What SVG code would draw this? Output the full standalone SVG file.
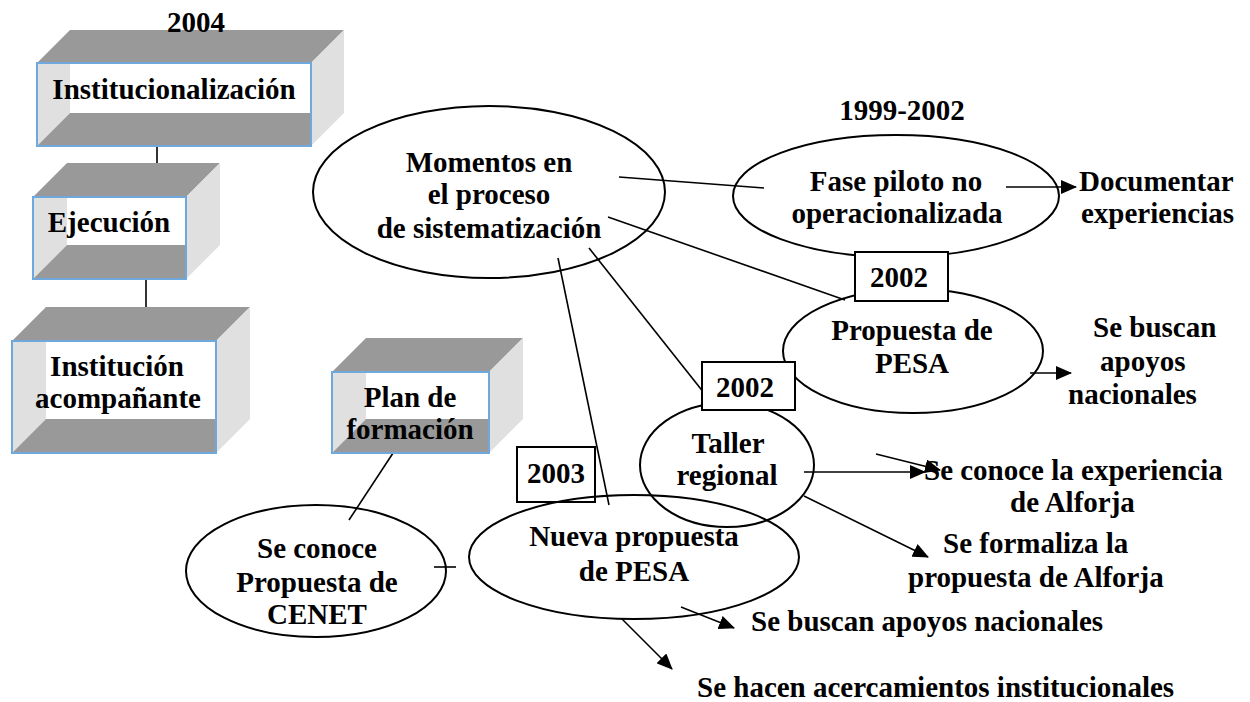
<svg xmlns="http://www.w3.org/2000/svg" width="1250" height="702" viewBox="0 0 1250 702">
<defs>
<marker id="ah" markerUnits="userSpaceOnUse" markerWidth="16" markerHeight="14" viewBox="0 0 16 14" refX="15" refY="7" orient="auto">
<path d="M0,0 L16,7 L0,14 z" fill="#000"/>
</marker>
<style>
text{font-family:"Liberation Serif","Times New Roman",serif;font-weight:bold;font-size:29px;fill:#000}
.c{text-anchor:middle}
.dark{fill:#999999}
.light{fill:#e0e0e0}
.wall{fill:#ffffff}
.front{fill:none;stroke:#6fa8dc;stroke-width:2}
.el{fill:none;stroke:#000;stroke-width:2}
.yr{fill:#fff;stroke:#000;stroke-width:2}
.ln{stroke:#000;stroke-width:1.6;fill:none}
.ar{stroke:#000;stroke-width:1.6;fill:none;marker-end:url(#ah)}
</style>
</defs>
<rect width="1250" height="702" fill="#fff"/>

<g id="connectors">
<line class="ln" x1="157" y1="146" x2="157" y2="164"/>
<line class="ln" x1="146" y1="279" x2="146" y2="322"/>
<line class="ln" x1="397" y1="447" x2="349" y2="520"/>
<line class="ln" x1="434" y1="567" x2="456" y2="567"/>
<line class="ln" x1="619" y1="177" x2="764" y2="188"/>
<line class="ln" x1="608" y1="217" x2="845" y2="300"/>
<line class="ln" x1="589" y1="248" x2="712" y2="403"/>
<line class="ln" x1="558" y1="258" x2="609" y2="505"/>
<line class="ar" x1="1006" y1="187" x2="1076" y2="187"/>
<line class="ar" x1="1030" y1="373" x2="1071" y2="373"/>
<line class="ar" x1="804" y1="472" x2="925" y2="472"/>
<line class="ar" x1="876" y1="454" x2="940" y2="470"/>
<line class="ar" x1="804" y1="496" x2="928" y2="557"/>
<line class="ar" x1="681" y1="607" x2="734" y2="628"/>
<line class="ar" x1="622" y1="619" x2="672" y2="669"/>
</g>

<g id="cube-institucionalizacion">
<polygon class="dark" points="37,63 70,30 344,30 311,63"/>
<polygon class="light" points="311,63 344,30 344,113 311,146"/>
<rect class="wall" x="37" y="63" width="274" height="83"/>
<polygon class="light" points="37,63 70,63 70,113 37,146"/>
<polygon class="dark" points="37,146 70,113 311,113 311,146"/>
<rect class="front" x="37" y="63" width="274" height="83"/>
<text class="c" x="174" y="99">Institucionalización</text>
</g>
<g id="year-2004"><text class="c" x="196" y="32">2004</text></g>

<g id="cube-ejecucion">
<polygon class="dark" points="33,197 67,163 220,163 186,197"/>
<polygon class="light" points="186,197 220,163 220,245 186,279"/>
<rect class="wall" x="33" y="197" width="153" height="82"/>
<polygon class="light" points="33,197 67,197 67,245 33,279"/>
<polygon class="dark" points="33,279 67,245 186,245 186,279"/>
<rect class="front" x="33" y="197" width="153" height="82"/>
<text class="c" x="109" y="232">Ejecución</text>
</g>

<g id="cube-institucion">
<polygon class="dark" points="12,341 46,307 250,307 216,341"/>
<polygon class="light" points="216,341 250,307 250,419 216,453"/>
<rect class="wall" x="12" y="341" width="204" height="112"/>
<polygon class="light" points="12,341 46,341 46,419 12,453"/>
<polygon class="dark" points="12,453 46,419 216,419 216,453"/>
<rect class="front" x="12" y="341" width="204" height="112"/>
<text class="c" x="117" y="376">Institución</text>
<text class="c" x="118" y="408">acompañante</text>
</g>

<g id="cube-plan">
<polygon class="dark" points="332,372 366,338 523,338 489,372"/>
<polygon class="light" points="489,372 523,338 523,419 489,453"/>
<rect class="wall" x="332" y="372" width="157" height="81"/>
<polygon class="light" points="332,372 366,372 366,419 332,453"/>
<polygon class="dark" points="332,453 366,419 489,419 489,453"/>
<rect class="front" x="332" y="372" width="157" height="81"/>
<text class="c" x="410" y="407">Plan de</text>
<text class="c" x="410" y="439">formación</text>
</g>

<g id="momentos">
<ellipse class="el" cx="489" cy="192" rx="176" ry="86"/>
<text class="c" x="489" y="172">Momentos en</text>
<text class="c" x="489" y="204">el proceso</text>
<text class="c" x="489" y="238">de sistematización</text>
</g>

<g id="fase">
<text class="c" x="902" y="120">1999-2002</text>
<ellipse class="el" cx="896" cy="196" rx="163" ry="61"/>
<text class="c" x="896" y="191">Fase piloto no</text>
<text class="c" x="897" y="223">operacionalizada</text>
</g>
<g id="documentar">
<text x="1079" y="191">Documentar</text>
<text x="1081" y="223">experiencias</text>
</g>

<g id="propuesta">
<ellipse class="el" cx="913" cy="351" rx="130" ry="62"/>
<rect class="yr" x="855" y="252" width="93" height="49"/>
<text class="c" x="899" y="287">2002</text>
<text class="c" x="912" y="340">Propuesta de</text>
<text class="c" x="912" y="373">PESA</text>
</g>
<g id="apoyos1">
<text x="1093" y="337">Se buscan</text>
<text x="1100" y="371">apoyos</text>
<text x="1068" y="404">nacionales</text>
</g>

<g id="taller">
<ellipse class="el" cx="727" cy="465" rx="87" ry="62"/>
<rect class="yr" x="702" y="362" width="93" height="48"/>
<text class="c" x="745" y="397">2002</text>
<text class="c" x="728" y="453">Taller</text>
<text class="c" x="727" y="485">regional</text>
</g>
<g id="experiencia">
<text x="924" y="480">Se conoce la experiencia</text>
<text x="1010" y="512">de Alforja</text>
</g>
<g id="formaliza">
<text x="943" y="553">Se formaliza la</text>
<text x="908" y="587">propuesta de Alforja</text>
</g>

<g id="nueva">
<rect class="yr" x="517" y="447" width="78" height="55"/>
<text class="c" x="556" y="483">2003</text>
<ellipse class="el" cx="634" cy="557" rx="165" ry="62"/>
<text class="c" x="634" y="546">Nueva propuesta</text>
<text class="c" x="634" y="581">de PESA</text>
</g>

<g id="cenet">
<ellipse class="el" cx="316" cy="571" rx="130" ry="66"/>
<text class="c" x="317" y="558">Se conoce</text>
<text class="c" x="317" y="592">Propuesta de</text>
<text class="c" x="317" y="624">CENET</text>
</g>

<g id="apoyos2"><text x="751" y="631">Se buscan apoyos nacionales</text></g>
<g id="acercamientos"><text x="697" y="697">Se hacen acercamientos institucionales</text></g>
</svg>
